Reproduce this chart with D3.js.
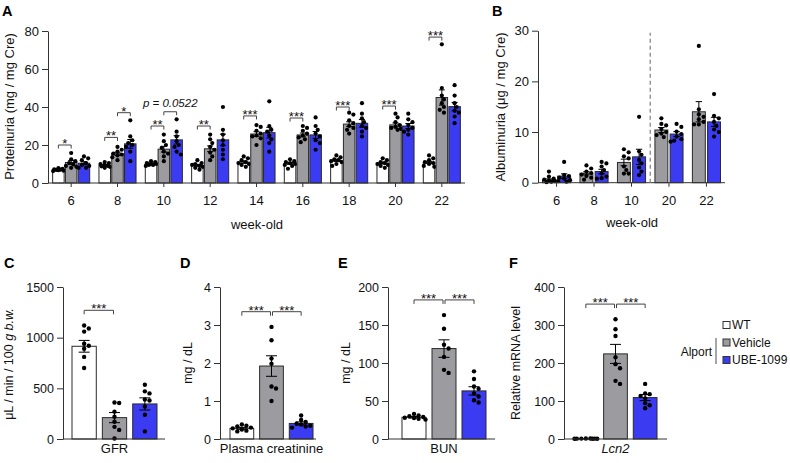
<!DOCTYPE html>
<html><head><meta charset="utf-8">
<script src="https://cdn.jsdelivr.net/npm/d3@7"></script>
<style>body{margin:0;background:#fff;} svg{display:block;font-family:"Liberation Sans",Arial,Helvetica,sans-serif;}</style>
</head><body><svg id="c" width="790" height="463"></svg>
<script>
// ---------- shared ----------
const series = ["WT", "Vehicle", "UBE-1099"];
const seriesColors = ["#ffffff", "#9c9ca0", "#3b3bf2"];

// ---------- Panel A: proteinuria ----------
const weeksA = ["6", "8", "10", "12", "14", "16", "18", "20", "22"];
const protTicks = [0, 20, 40, 60, 80];
const protMeanWT  = [7.0, 9.4, 10.1, 9.3, 11.0, 10.3, 11.9, 10.5, 10.8];
const protMeanVeh = [10.8, 15.4, 17.8, 18.0, 25.8, 25.3, 31.0, 30.6, 45.0];
const protMeanUBE = [10.4, 20.6, 22.7, 22.7, 26.5, 25.3, 31.4, 30.0, 40.2];
const protSemWT  = [0.3, 0.3, 0.4, 0.5, 0.6, 0.5, 0.6, 0.5, 0.6];
const protSemVeh = [1.0, 0.8, 1.5, 1.5, 1.2, 1.0, 1.2, 1.0, 4.0];
const protSemUBE = [0.8, 2.3, 2.2, 3.0, 2.8, 1.8, 2.0, 1.3, 2.2];
const protPtsWT = [
  [7.8, 7.5, 7.2, 7.0, 6.9, 6.7, 6.5, 6.3],
  [11, 10.5, 10, 9.5, 9, 8.8, 8.5, 8],
  [11.5, 11, 10.5, 10, 10, 9.5, 9, 9.5],
  [12, 10.5, 10, 9.5, 9, 8.5, 8, 7],
  [14, 13, 12, 11, 10.5, 10, 9.5, 8.5],
  [12.5, 11.5, 11, 10.5, 10, 9.5, 9, 7.5],
  [14.5, 13.5, 12.5, 12, 11.5, 11, 10, 9],
  [13, 12, 11, 10.5, 10, 9.5, 9, 8],
  [14.5, 13, 12, 11, 10.5, 10, 9, 8.5]
];
const protPtsVeh = [
  [15.8, 12.5, 11.5, 10.5, 9.8, 9.0, 8.5, 8.0],
  [19, 17.5, 16.5, 15.5, 15, 14.5, 13.5, 12],
  [25.5, 22, 20, 18.5, 16.5, 15.5, 14, 11.5],
  [25.5, 23, 21, 19, 17.5, 16, 14, 12],
  [30.5, 29.5, 27.5, 26, 25, 24.5, 23.5, 20],
  [30, 29, 27.5, 26, 25, 24, 23, 21.5],
  [37, 36, 33, 31.5, 30, 29, 28, 26],
  [36.5, 34.5, 32, 30.5, 29.5, 29, 28.5, 28],
  [73, 50, 46, 44, 42, 40, 38.5, 37]
];
const protPtsUBE = [
  [14, 13, 12, 10.5, 9.5, 9, 8, 8],
  [33, 24.5, 22.5, 21, 20, 19, 16.5, 11.5],
  [33.5, 27, 24.5, 22, 20, 19, 16.5, 15],
  [40, 28, 25.5, 22.5, 20, 17.5, 15, 12.5],
  [43, 30, 28, 27, 25, 23, 21, 16.5],
  [34.5, 30, 28, 26, 24.5, 22.5, 21, 17.5],
  [42, 36.5, 34, 32, 30, 29, 27, 24.5],
  [36.5, 33.5, 32, 30.5, 29, 28, 27, 25.5],
  [51.5, 46, 42, 40, 38, 37, 35, 31.5]
];
// significance: week, series from, series to, bracket level (data units), label
const protSigWeek = ["6", "8", "8", "10", "10", "12", "14", "16", "18", "20", "22"];
const protSigFrom = [0, 0, 1, 0, 1, 0, 0, 0, 0, 0, 0];
const protSigTo   = [1, 1, 2, 1, 2, 1, 1, 1, 1, 1, 1];
const protSigLevel = [20, 24, 37, 30, 37.5, 30, 35.3, 34.2, 40, 40.5, 76.8];
const protSigLabel = ["*", "**", "*", "**", "p = 0.0522", "**", "***", "***", "***", "***", "***"];

// ---------- Panel B: albuminuria ----------
const weeksB = ["6", "8", "10", "20", "22"];
const albTicks = [0, 10, 20, 30];
const albMeanVeh = [0.5, 1.85, 4.0, 10.4, 14.0];
const albMeanUBE = [1.3, 2.2, 5.1, 9.6, 12.0];
const albSemVeh = [0.25, 0.3, 0.65, 0.5, 2.0];
const albSemUBE = [0.45, 0.45, 1.5, 0.5, 0.9];
const albPtsVeh = [
  [2.2, 1.2, 0.8, 0.6, 0.4, 0.3, 0.2, 0.1],
  [3.4, 2.8, 2.2, 1.9, 1.6, 1.3, 1.0, 0.6],
  [6.6, 6.0, 5.2, 4.8, 3.2, 2.5, 1.8, 1.8],
  [12.7, 11.6, 11.3, 10.6, 10, 9.7, 9.4, 9],
  [27, 14.5, 13.5, 13, 12.5, 12, 11.5, 11.5]
];
const albPtsUBE = [
  [4.1, 1.5, 1.3, 1.0, 0.8, 0.5, 0.3, 0.2],
  [4.1, 3.8, 3.2, 2.5, 1.8, 1.2, 0.9, 0.8],
  [13, 6.2, 5.5, 4.5, 3.8, 3.0, 2.2, 1.5],
  [11.6, 11, 10.1, 9.6, 9.1, 8.6, 8.3, 8.1],
  [17.5, 13.2, 12.7, 12, 11.2, 10.5, 10, 9.1]
];

// ---------- Panels C-F ----------
const gfrTicks = [0, 500, 1000, 1500];
const gfrMean = [915, 211, 346];
const gfrSem = [58, 50, 60];
const gfrPts = [
  [1120, 1090, 1060, 940, 920, 890, 810, 700],
  [360, 355, 270, 220, 170, 120, 90, 5],
  [535, 470, 450, 390, 380, 320, 240, 75]
];
const creTicks = [0, 1, 2, 3, 4];
const creMean = [0.28, 1.92, 0.41];
const creSem = [0.025, 0.27, 0.04];
const crePts = [
  [0.38, 0.35, 0.33, 0.3, 0.28, 0.25, 0.22, 0.2],
  [2.95, 2.6, 2.12, 1.98, 1.38, 1.33, 1.0],
  [0.62, 0.5, 0.45, 0.4, 0.38, 0.35, 0.33, 0.3]
];
const bunTicks = [0, 50, 100, 150, 200];
const bunMean = [28.6, 119, 63.3];
const bunSem = [1.0, 11.5, 5.5];
const bunPts = [
  [33, 31, 30, 29, 28, 27.5, 26.5, 25.5],
  [163, 145, 124, 119, 108, 91, 87],
  [89, 79, 69, 66, 60, 56, 51, 48]
];
const lcnTicks = [0, 100, 200, 300, 400];
const lcnMean = [1, 224, 109];
const lcnSem = [0.1, 25, 8];
const lcnPts = [
  [1.5, 1.2, 1, 1, 0.9, 0.8, 0.7, 0.6],
  [315, 289, 271, 215, 197, 186, 153, 145],
  [145, 120, 118, 113, 107, 94, 89, 81]
];
const smallSigLevel = [1270, 3.35, 183, 355];   // bracket heights for C,D,E,F
const smallSigPairs = [[[0, 1]], [[0, 1], [1, 2]], [[0, 1], [1, 2]], [[0, 1], [1, 2]]];

// ---------- drawing helpers ----------
const svg = d3.select("#c");
const AX = "#333";

function swarm(vals, y, cx, half, r) {
  const items = vals.map(v => ({ py: y(v) })).sort((a, b) => a.py - b.py);
  const placed = [];
  const d = half / 2.5;
  const offs = [0, d, -d, 2 * d, -2 * d, 2.5 * d, -2.5 * d, 1.5 * d, -1.5 * d];
  for (const it of items) {
    let best = 0, bestScore = -1;
    for (const o of offs) {
      let minD = Infinity;
      for (const p of placed) {
        const dd = Math.hypot(p.px - (cx + o), p.py - it.py);
        if (dd < minD) minD = dd;
      }
      if (minD >= 2 * r) { best = o; bestScore = Infinity; break; }
      if (minD > bestScore) { bestScore = minD; best = o; }
    }
    it.px = cx + best;
    placed.push(it);
  }
  return placed;
}

function drawBar(g, x, bw, y, mean, sem, pts, fill, r, capHalf) {
  g.append("rect").attr("x", x).attr("y", y(mean)).attr("width", bw)
    .attr("height", Math.max(0, y(0) - y(mean))).attr("fill", fill)
    .attr("stroke", "#2a2a2a").attr("stroke-width", 1);
  const cx = x + bw / 2;
  const lo = y(Math.max(0, mean - sem)), hi = y(mean + sem);
  g.append("path").attr("d", `M${cx},${lo}V${hi}M${cx - capHalf},${hi}H${cx + capHalf}M${cx - capHalf},${lo}H${cx + capHalf}`)
    .attr("stroke", "#000").attr("stroke-width", 1).attr("fill", "none");
  swarm(pts, y, cx, bw / 2 - 0.5, r).forEach(p => {
    g.append("circle").attr("cx", p.px).attr("cy", p.py).attr("r", r).attr("fill", "#000");
  });
}

function yAxis(x, y, ticks, fs) {
  const g = svg.append("g").attr("transform", `translate(${x},0)`)
    .call(d3.axisLeft(y).tickValues(ticks).tickFormat(d3.format("d")).tickSize(6).tickPadding(3).tickSizeOuter(0));
  g.select(".domain").attr("stroke", AX);
  g.selectAll(".tick line").attr("stroke", AX);
  g.selectAll("text").attr("font-size", fs).attr("font-family", null).attr("fill", "#111");
  return g;
}

function bracket(x1, x2, yy, label, drop) {
  svg.append("path").attr("d", `M${x1},${yy + drop}V${yy}H${x2}V${yy + drop}`)
    .attr("fill", "none").attr("stroke", "#444").attr("stroke-width", 1);
  const t = svg.append("text").attr("x", (x1 + x2) / 2).attr("text-anchor", "middle").attr("fill", "#111").text(label);
  if (label.startsWith("p")) t.attr("y", yy - 4.5).attr("font-size", 11.5).attr("font-style", "italic");
  else t.attr("y", yy + 3).attr("font-size", 13);
}

function yTitle(x, yc, text, fs) {
  return svg.append("text").attr("transform", `translate(${x},${yc}) rotate(-90)`)
    .attr("text-anchor", "middle").attr("dominant-baseline", "central").attr("font-size", fs).attr("fill", "#111").text(text);
}

function letter(x, y, t) {
  svg.append("text").attr("x", x).attr("y", y).attr("font-size", 14.5).attr("font-weight", "bold").attr("fill", "#000").text(t);
}

// ---------- Panel A ----------
{
  const x0 = 48, x1 = 465;
  const y = d3.scaleLinear().domain([0, 80]).range([183, 31]);
  const gx = d3.scaleBand().domain(weeksA).range([x0, x1]).paddingInner(0.2).paddingOuter(0.1);
  const sx = d3.scaleBand().domain(series).range([0, gx.bandwidth()]).paddingInner(0.1);
  const g = svg.append("g");
  const means = [protMeanWT, protMeanVeh, protMeanUBE];
  const sems = [protSemWT, protSemVeh, protSemUBE];
  const pts = [protPtsWT, protPtsVeh, protPtsUBE];
  weeksA.forEach((w, i) => {
    series.forEach((s, k) => {
      drawBar(g, gx(w) + sx(s), sx.bandwidth(), y, means[k][i], sems[k][i], pts[k][i], seriesColors[k], 2.1, 3);
    });
  });
  yAxis(x0, y, protTicks, 13);
  svg.append("line").attr("x1", x0).attr("x2", x1).attr("y1", y(0)).attr("y2", y(0)).attr("stroke", AX);
  weeksA.forEach(w => {
    const cx = gx(w) + gx.bandwidth() / 2;
    svg.append("line").attr("x1", cx).attr("x2", cx).attr("y1", y(0)).attr("y2", y(0) + 4).attr("stroke", AX);
    svg.append("text").attr("x", cx).attr("y", 205).attr("text-anchor", "middle").attr("font-size", 13).attr("fill", "#111").text(w);
  });
  svg.append("text").attr("x", 257).attr("y", 229).attr("text-anchor", "middle").attr("font-size", 13).attr("fill", "#111").text("week-old");
  yTitle(9, 106.5, "Proteinuria (mg / mg Cre)", 13);
  protSigWeek.forEach((w, j) => {
    const xa = gx(w) + sx(series[protSigFrom[j]]) + sx.bandwidth() / 2;
    const xb = gx(w) + sx(series[protSigTo[j]]) + sx.bandwidth() / 2;
    bracket(xa, xb, y(protSigLevel[j]), protSigLabel[j], 3.5);
  });
  letter(2, 16, "A");
}

// ---------- Panel B ----------
{
  const x0 = 538, x1 = 725;
  const y = d3.scaleLinear().domain([0, 30]).range([182.7, 30.7]);
  const gx = d3.scaleBand().domain(weeksB).range([x0, x1]).paddingInner(0.25).paddingOuter(0.12);
  const sx = d3.scaleBand().domain(series.slice(1)).range([0, gx.bandwidth()]).paddingInner(0.15);
  const g = svg.append("g");
  const means = [albMeanVeh, albMeanUBE], sems = [albSemVeh, albSemUBE], pts = [albPtsVeh, albPtsUBE];
  weeksB.forEach((w, i) => {
    series.slice(1).forEach((s, k) => {
      drawBar(g, gx(w) + sx(s), sx.bandwidth(), y, means[k][i], sems[k][i], pts[k][i], seriesColors[k + 1], 2.1, 3.2);
    });
  });
  yAxis(x0, y, albTicks, 13);
  svg.append("line").attr("x1", x0).attr("x2", x1).attr("y1", y(0)).attr("y2", y(0)).attr("stroke", AX);
  weeksB.forEach(w => {
    const cx = gx(w) + gx.bandwidth() / 2;
    svg.append("line").attr("x1", cx).attr("x2", cx).attr("y1", y(0)).attr("y2", y(0) + 4).attr("stroke", AX);
    svg.append("text").attr("x", cx).attr("y", 205).attr("text-anchor", "middle").attr("font-size", 13).attr("fill", "#111").text(w);
  });
  const xd = (gx("10") + gx.bandwidth() + gx("20")) / 2;
  svg.append("line").attr("x1", xd).attr("x2", xd).attr("y1", y(0)).attr("y2", y(29.6))
    .attr("stroke", "#888").attr("stroke-width", 1.3).attr("stroke-dasharray", "4,3");
  svg.append("text").attr("x", 632).attr("y", 227).attr("text-anchor", "middle").attr("font-size", 13).attr("fill", "#111").text("week-old");
  yTitle(500, 107, "Albuminuria (μg / mg Cre)", 13);
  letter(492, 16, "B");
}

// ---------- Panels C-F ----------
const smallPanels = [
  { x0: 63, x1: 165, b0: 72, b1: 157, dom: 1500, ticks: gfrTicks, mean: gfrMean, sem: gfrSem, pts: gfrPts, xl: "GFR", ital: false, L: "C", lx: 4 },
  { x0: 220, x1: 316, b0: 230, b1: 313, dom: 4, ticks: creTicks, mean: creMean, sem: creSem, pts: crePts, xl: "Plasma creatinine", ital: false, L: "D", lx: 180 },
  { x0: 388, x1: 495, b0: 402, b1: 486, dom: 200, ticks: bunTicks, mean: bunMean, sem: bunSem, pts: bunPts, xl: "BUN", ital: false, L: "E", lx: 338 },
  { x0: 564, x1: 667, b0: 574, b1: 657, dom: 400, ticks: lcnTicks, mean: lcnMean, sem: lcnSem, pts: lcnPts, xl: "Lcn2", ital: true, L: "F", lx: 509 }
];
smallPanels.forEach((p, pi) => {
  const y = d3.scaleLinear().domain([0, p.dom]).range([439, 287]);
  const bx = d3.scaleBand().domain(series).range([p.b0, p.b1]).paddingInner(0.2);
  const g = svg.append("g");
  series.forEach((s, k) => {
    drawBar(g, bx(s), bx.bandwidth(), y, p.mean[k], p.sem[k], p.pts[k], seriesColors[k], 2.2, 5.5);
  });
  yAxis(p.x0, y, p.ticks, 12.5);
  svg.append("line").attr("x1", p.x0).attr("x2", p.x1).attr("y1", y(0)).attr("y2", y(0)).attr("stroke", AX);
  svg.append("text").attr("x", (p.b0 + p.b1) / 2).attr("y", 453).attr("text-anchor", "middle").attr("font-size", 13)
    .attr("font-style", p.ital ? "italic" : null).attr("fill", "#111").text(p.xl);
  const by = y(smallSigLevel[pi]);
  smallSigPairs[pi].forEach(([a, b]) => {
    const xa = bx(series[a]) + bx.bandwidth() / 2 + (a === 1 ? 1 : 0);
    const xb = bx(series[b]) + bx.bandwidth() / 2 - (b === 1 ? 1 : 0);
    bracket(xa, xb, by, "***", 4);
  });
  letter(p.lx, 268, p.L);
});
// titles C-F
{
  const t = svg.append("text").attr("transform", "translate(9,364) rotate(-90)").attr("text-anchor", "middle")
    .attr("dominant-baseline", "central").attr("font-size", 12.5).attr("fill", "#111");
  t.append("tspan").text("μL / min / 100 ");
  t.append("tspan").attr("font-style", "italic").text("g b.w.");
  yTitle(188, 363, "mg / dL", 12.5);
  yTitle(346, 363, "mg / dL", 12.5);
  yTitle(516, 363, "Relative mRNA level", 12.5);
}

// ---------- legend ----------
{
  const rows = [325, 342.5, 360];
  series.forEach((s, k) => {
    svg.append("rect").attr("x", 723).attr("y", rows[k] - 3.5).attr("width", 7).attr("height", 7)
      .attr("fill", seriesColors[k]).attr("stroke", "#333").attr("stroke-width", 1);
    svg.append("text").attr("x", 732).attr("y", rows[k]).attr("dy", "0.36em").attr("font-size", 12).attr("fill", "#111").text(s);
  });
  svg.append("text").attr("x", 712).attr("y", 352).attr("dy", "0.36em").attr("text-anchor", "end").attr("font-size", 12).attr("fill", "#111").text("Alport");
  svg.append("line").attr("x1", 716).attr("x2", 716).attr("y1", 338).attr("y2", 364).attr("stroke", "#888").attr("stroke-width", 1.5);
}
</script></body></html>
